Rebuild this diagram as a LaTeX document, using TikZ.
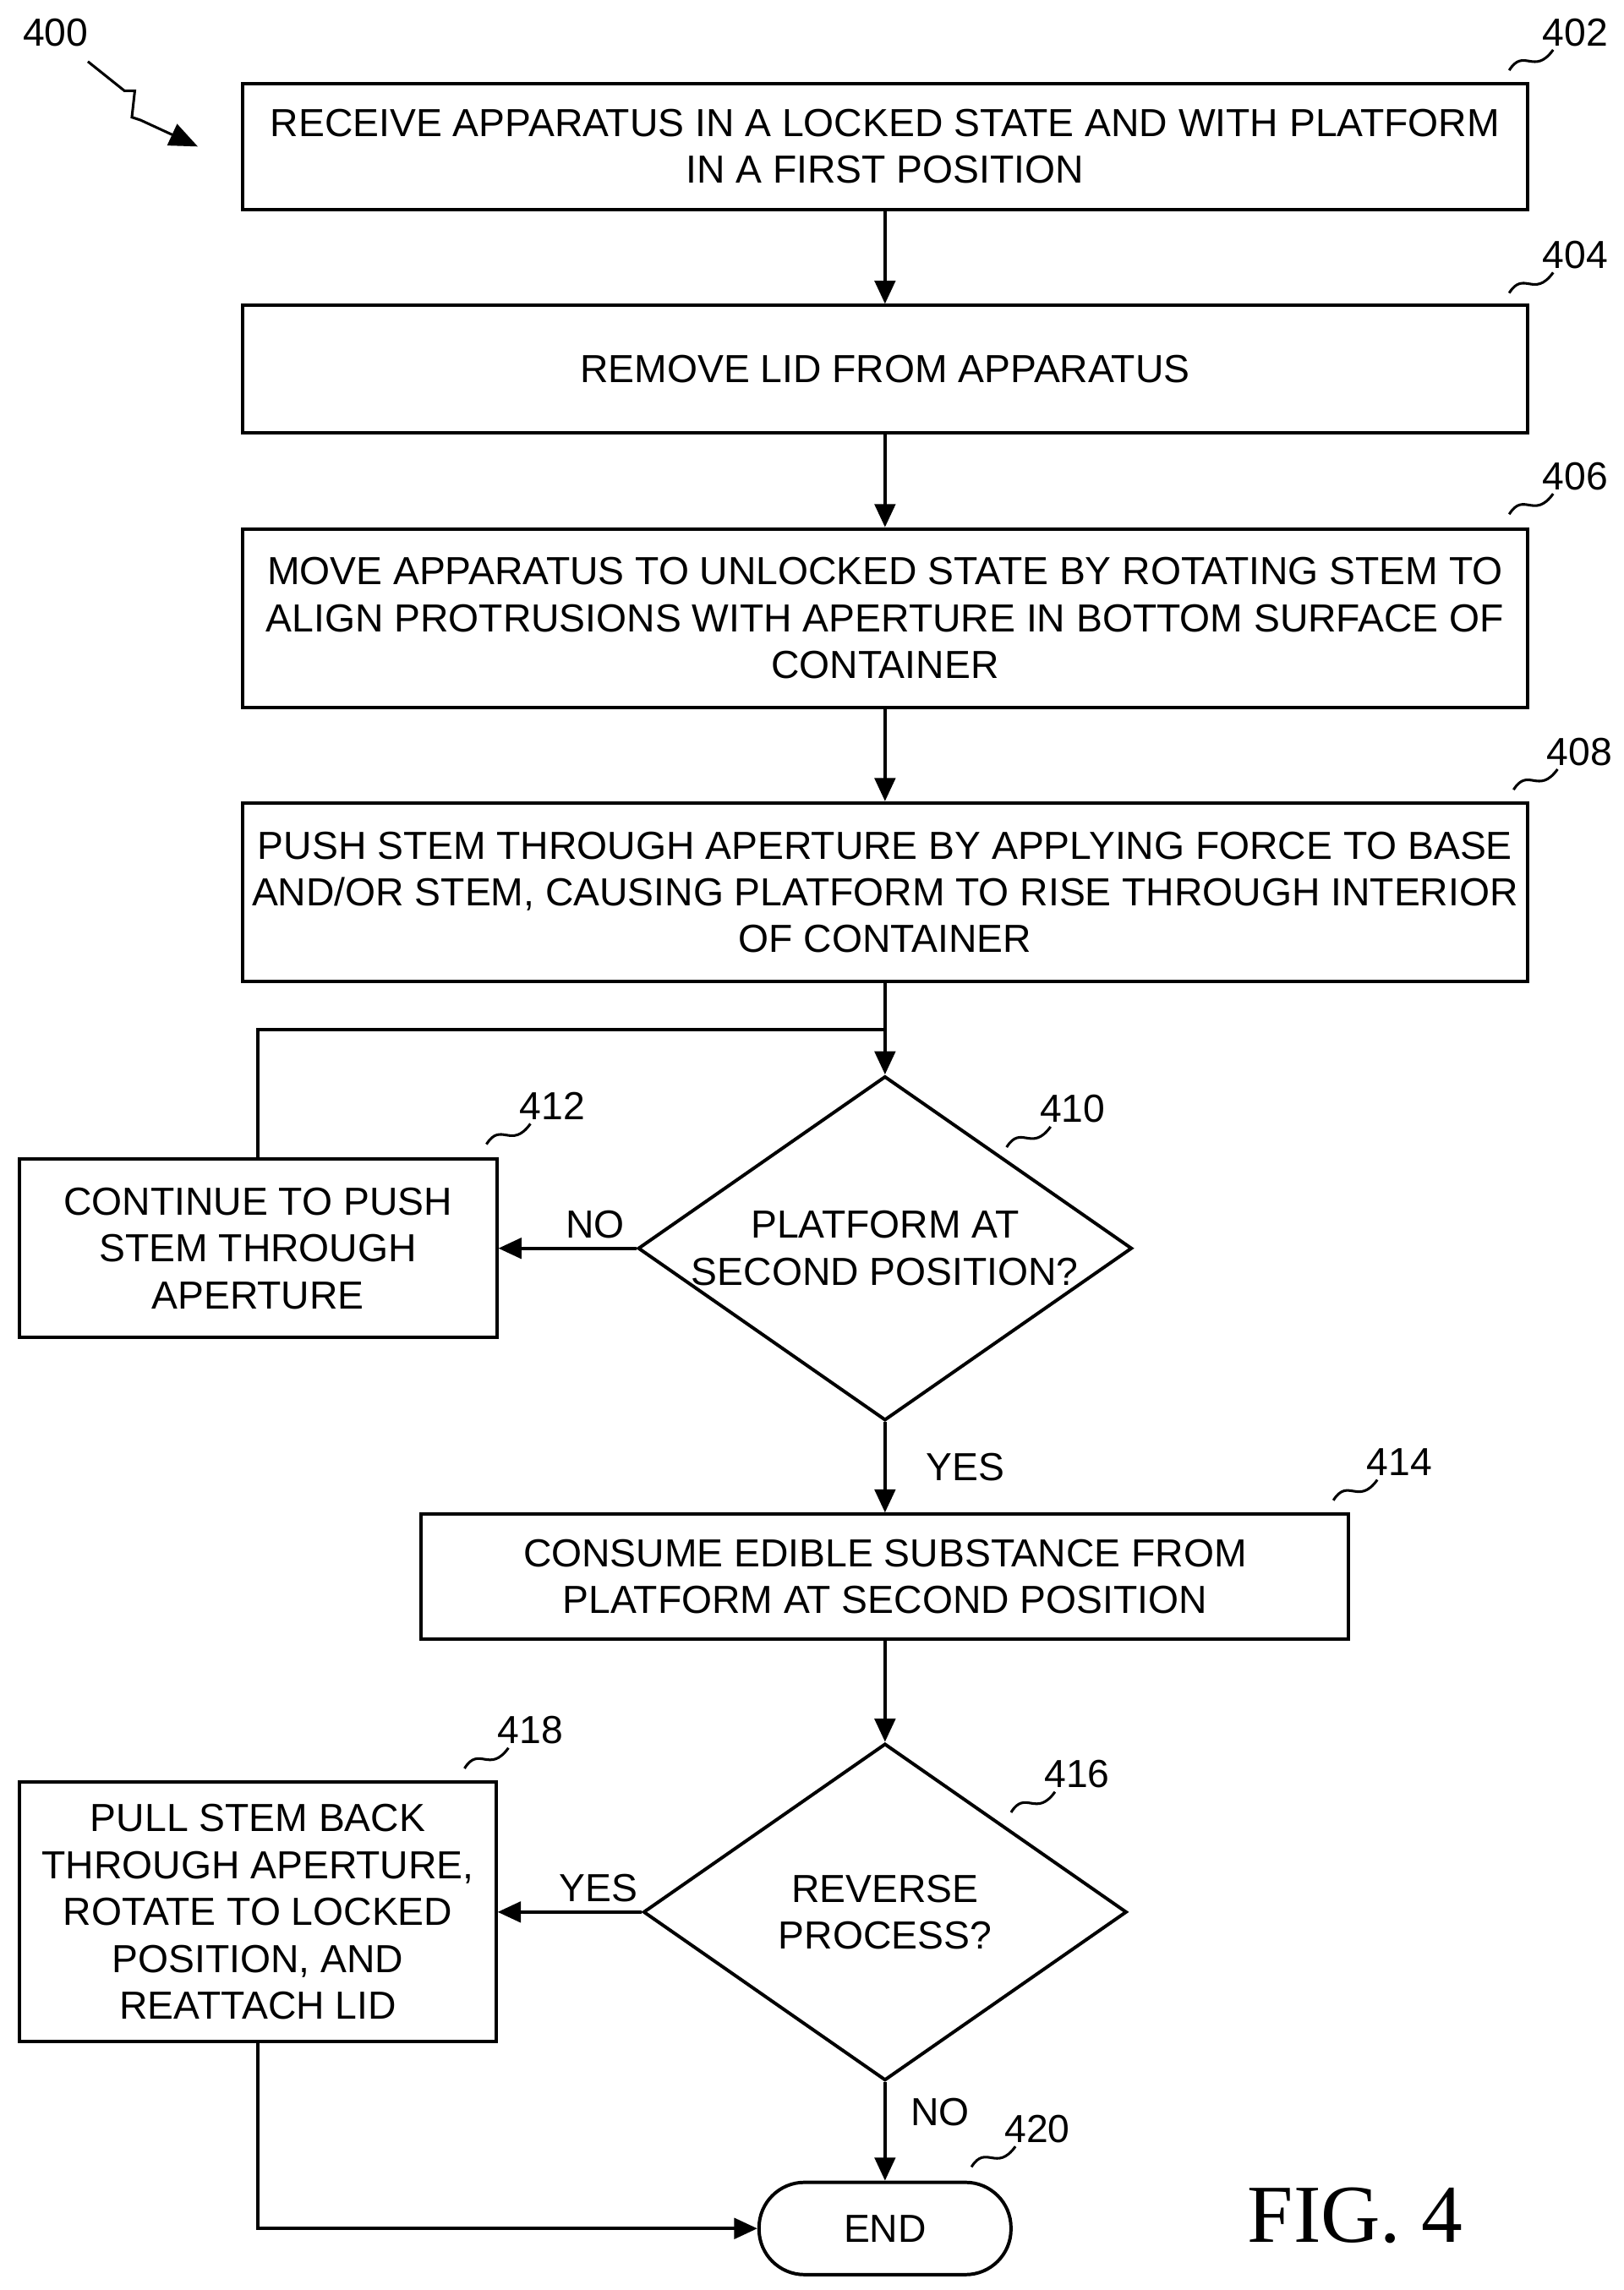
\documentclass[tikz,border=0pt]{standalone}
\usepackage{fontspec}
\setmainfont{Liberation Sans}
\newfontfamily\figfont{Liberation Serif}
\usetikzlibrary{shapes.geometric,arrows.meta}
\begin{document}
\begin{tikzpicture}[x=0.02cm,y=-0.02cm,
        every node/.style={font=\fontsize{15.2}{18.2}\selectfont},
        step/.style 2 args={draw,line width=1.3pt,minimum width=#1*0.02cm,
          minimum height=#2*0.02cm,align=center,inner sep=2pt},
        test/.style={draw,line width=1.3pt,diamond,aspect=1.435,
          minimum width=6.6cm,minimum height=4.6cm,inner sep=0pt,align=center},
        flow/.style={line width=1.3pt,-{Triangle[length=9pt,width=8pt]}},
        link/.style={line width=1.3pt},
        tag/.style={line width=1pt}
    ]
    \useasboundingbox (0,0) rectangle (1108,1563);
    % steps
    \node[step={877}{86}] (s402) at (604,100) {RECEIVE APPARATUS IN A LOCKED STATE AND WITH PLATFORM\\IN A FIRST POSITION};
    \node[step={877}{87}] (s404) at (604,252) {REMOVE LID FROM APPARATUS};
    \node[step={877}{122}] (s406) at (604,422) {MOVE APPARATUS TO UNLOCKED STATE BY ROTATING STEM TO\\ALIGN PROTRUSIONS WITH APERTURE IN BOTTOM SURFACE OF\\CONTAINER};
    \node[step={877}{122}] (s408) at (604,609) {PUSH STEM THROUGH APERTURE BY APPLYING FORCE TO BASE\\AND/OR STEM, CAUSING PLATFORM TO RISE THROUGH INTERIOR\\OF CONTAINER};
    \node[test] (d410) at (604,852) {PLATFORM AT\\SECOND POSITION?};
    \node[step={326}{122}] (s412) at (176,852) {CONTINUE TO PUSH\\STEM THROUGH\\APERTURE};
    \node[step={633}{85}] (s414) at (604,1076) {CONSUME EDIBLE SUBSTANCE FROM\\PLATFORM AT SECOND POSITION};
    \node[test] (d416) at (604,1305) {REVERSE\\PROCESS?};
    \node[step={325}{177}] (s418) at (176,1305) {PULL STEM BACK\\THROUGH APERTURE,\\ROTATE TO LOCKED\\POSITION, AND\\REATTACH LID};
    \node[draw,line width=1.3pt,rounded corners=0.62cm,minimum width=3.44cm,
          minimum height=1.26cm] (e420) at (604,1521) {END};
    \node[font=\fontsize{32}{32}\figfont] (fig) at (925,1512) {FIG. 4};
    % connectors
    \draw[flow] (s402) -- (s404);
    \draw[flow] (s404) -- (s406);
    \draw[flow] (s406) -- (s408);
    \coordinate (j1) at (604,703);
    \draw[flow] (s408) -- (d410);
    \draw[link] (s412.north) |- (j1);
    \draw[flow] (d410.west) -- node[above,pos=0.3] {NO} (s412.east);
    \draw[flow] (d410.south) -- node[right,xshift=12pt] {YES} (s414.north);
    \draw[flow] (s414) -- (d416);
    \draw[flow] (d416.west) -- node[above,pos=0.3] {YES} (s418.east);
    \draw[flow] (d416.south) -- node[right,xshift=6pt,pos=0.3] {NO} (e420.north);
    \draw[flow] (s418.south) |- (e420.west);
    % reference numerals
    \node (n400) at (38,22) {400};
    \draw[tag,-{Triangle[length=11pt,width=9pt]}] (60,42) -- (85,62) -- (92,62) -- (90,80) -- (96,82) -- (135,100);
    \foreach \num/\x/\y in {402/1075/22, 404/1075/174, 406/1075/325, 408/1078/513,
                            410/732/757, 412/377/755, 414/955/998, 416/735/1211,
                            418/362/1181, 420/708/1453} {
        \node (n\num) at (\x,\y) {\num};
        \draw[tag] (\x-45,\y+26) .. controls (\x-35,\y+10) and (\x-28,\y+30) .. (\x-15,\y+12);
    }
\end{tikzpicture}
\end{document}
